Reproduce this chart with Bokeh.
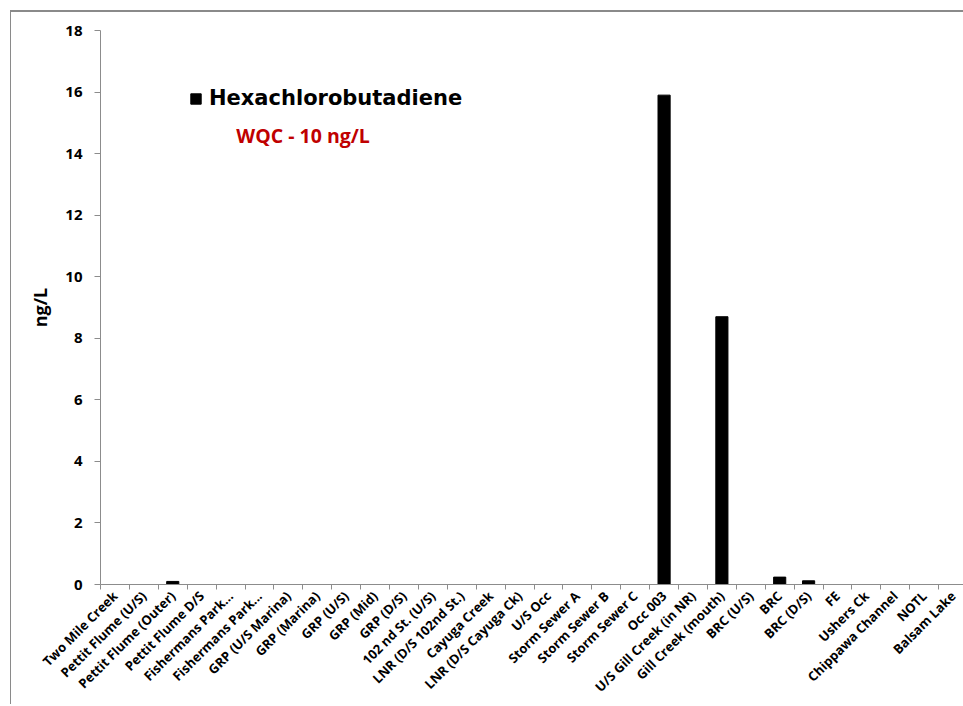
from bokeh.plotting import figure
from bokeh.models import Range1d, FixedTicker, SingleIntervalTicker, Label, ColumnDataSource, Legend, LegendItem
from bokeh.embed import file_html
from bokeh.resources import INLINE
import math

categories = [
    "Two Mile Creek", "Pettit Flume (U/S)", "Pettit Flume (Outer)", "Pettit Flume D/S",
    "Fishermans Park...", "Fishermans Park...", "GRP (U/S Marina)", "GRP (Marina)",
    "GRP (U/S)", "GRP (Mid)", "GRP (D/S)", "102 nd St. (U/S)", "LNR (D/S 102nd St.)",
    "Cayuga Creek", "LNR (D/S Cayuga Ck)", "U/S Occ", "Storm Sewer A", "Storm Sewer B",
    "Storm Sewer C", "Occ 003", "U/S Gill Creek (in NR)", "Gill Creek (mouth)",
    "BRC (U/S)", "BRC", "BRC (D/S)", "FE", "Ushers Ck", "Chippawa Channel", "NOTL", "Balsam Lake",
]
values = [
    0, 0, 0.1, 0, 0, 0, 0, 0, 0, 0, 0, 0, 0, 0, 0, 0, 0, 0, 0,
    15.9, 0, 8.7, 0, 0.24, 0.12, 0, 0, 0, 0, 0,
]
series_name = "Hexachlorobutadiene"
wqc_text = "WQC - 10 ng/L"
y_title = "ng/L"

positions = list(range(len(categories)))
boundaries = [i - 0.5 for i in range(len(categories) + 1)]

src = ColumnDataSource(dict(x=positions, top=values))

p = figure(
    width=963, height=704,
    output_backend="svg", toolbar_location=None,
    x_range=Range1d(-0.5, 29.36), y_range=Range1d(0, 18),
    min_border_left=100, min_border_right=0, min_border_top=30, min_border_bottom=100,
)
p.border_fill_alpha = 0
p.styles = {
    "background": "linear-gradient(#8a8a8a, #8a8a8a) 10px 11px / 1px 100% no-repeat, "
                  "linear-gradient(#8a8a8a, #8a8a8a) 10px 10px / 100% 2px no-repeat, white",
}
p.outline_line_color = None
p.xgrid.visible = False
p.ygrid.visible = False
p.background_fill_color = "white"

r = p.vbar(x="x", top="top", width=0.42, source=src, fill_color="black", line_color="black")

# x axis
xa = p.xaxis[0]
xa.ticker = FixedTicker(ticks=positions, minor_ticks=boundaries)
xa.major_label_overrides = {i: c for i, c in enumerate(categories)}
xa.major_label_orientation = math.pi / 4
xa.major_tick_line_color = None
xa.minor_tick_line_color = "#8c8c8c"
xa.minor_tick_out = 5
xa.minor_tick_in = 0
xa.axis_line_color = "#8c8c8c"
xa.major_label_text_font = "Open Sans"
xa.major_label_text_font_style = "bold"
xa.major_label_text_font_size = "13px"
xa.major_label_text_color = "black"
xa.major_label_standoff = 3

# y axis
ya = p.yaxis[0]
ya.ticker = SingleIntervalTicker(interval=2)
ya.minor_tick_line_color = None
ya.major_tick_line_color = "#8c8c8c"
ya.major_tick_out = 6
ya.major_tick_in = 0
ya.axis_line_color = "#8c8c8c"
ya.major_label_text_font = "Open Sans"
ya.major_label_text_font_style = "bold"
ya.major_label_text_font_size = "15px"
ya.major_label_text_color = "black"
ya.major_label_standoff = 12
ya.axis_label = y_title
ya.axis_label_text_font = "Open Sans"
ya.axis_label_text_font_style = "bold"
ya.axis_label_text_font_size = "18px"
ya.axis_label_text_color = "black"
ya.axis_label_standoff = 10

legend = Legend(items=[LegendItem(label=series_name, renderers=[r])],
                location=(89, 474), padding=0, margin=0, spacing=0,
                glyph_width=13, glyph_height=13, label_standoff=7,
                border_line_color=None, background_fill_alpha=0,
                label_text_font="DejaVu Sans", label_text_font_style="bold",
                label_text_font_size="21px", label_text_color="black")
p.add_layout(legend, "center")

p.add_layout(Label(x=4.2, y=14.6, text=wqc_text, text_font="Open Sans", text_font_style="bold",
                   text_font_size="19.5px", text_color="#C00000", text_baseline="middle"))

open("out.html", "w").write(file_html(p, INLINE))
